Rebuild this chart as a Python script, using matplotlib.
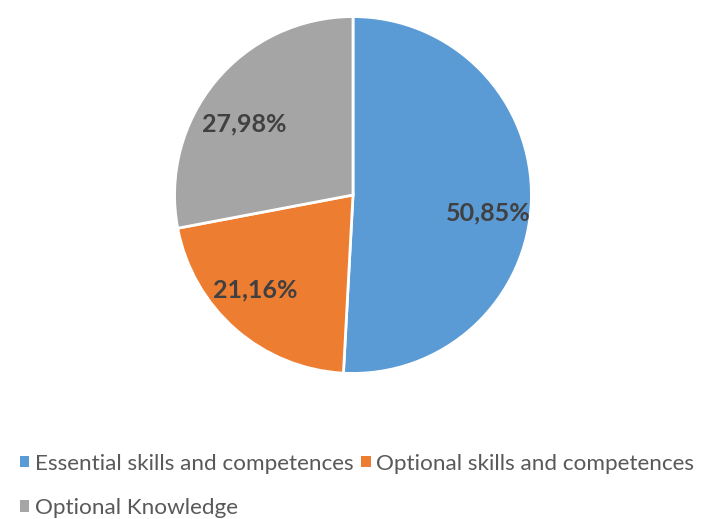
import matplotlib
matplotlib.use('Agg')
import matplotlib.pyplot as plt
from matplotlib.patches import Patch

categories = ['Essential skills and competences', 'Optional skills and competences', 'Optional Knowledge']
shares = [50.85, 21.16, 27.98]
colors = ['#5B9BD5', '#ED7D31', '#A5A5A5']
# nudges for the value labels, in pie-radius units
label_nudge = [(0.03, -0.08), (-0.065, 0.015), (-0.045, -0.065)]

plt.rcParams['font.family'] = ['Lato', 'DejaVu Sans']

fig = plt.figure(figsize=(7.08, 5.19), dpi=100)
W, H = 708, 519
cx, cy, r = 353, 195, 182
ax = fig.add_axes([(cx - r) / W, (H - cy - r) / H, 2 * r / W, 2 * r / H])

wedges, texts, autotexts = ax.pie(
    shares, colors=colors, startangle=90, counterclock=False,
    autopct='%.2f', pctdistance=0.73,
    wedgeprops=dict(edgecolor='white', linewidth=2),
    textprops=dict(color='#404040', fontsize=18, fontweight='bold'))
# show the stated shares (comma decimal), not the renormalised ones
for t, v, (dx, dy) in zip(autotexts, shares, label_nudge):
    t.set_text(f'{v:.2f}%'.replace('.', ','))
    x, y = t.get_position()
    t.set_position((x + dx, y + dy))
ax.set_xlim(-1.02, 1.02)
ax.set_ylim(-1.02, 1.02)
ax.set_aspect('equal')

# legend filled column-wise: Essential / Knowledge in column 1, Optional skills in column 2
order = [0, 2, 1]
handles = [Patch(facecolor=colors[i], edgecolor='none') for i in order]
labels = [categories[i] for i in order]
fig.legend(handles, labels, ncol=2, loc='upper left', bbox_to_anchor=(0.028, 0.126),
           frameon=False, fontsize=16.2, labelcolor='#595959',
           handlelength=0.42, handleheight=0.42, handletextpad=0.25,
           columnspacing=0.35, labelspacing=1.1, borderaxespad=0, borderpad=0)

fig.savefig('out.png', dpi=100)
